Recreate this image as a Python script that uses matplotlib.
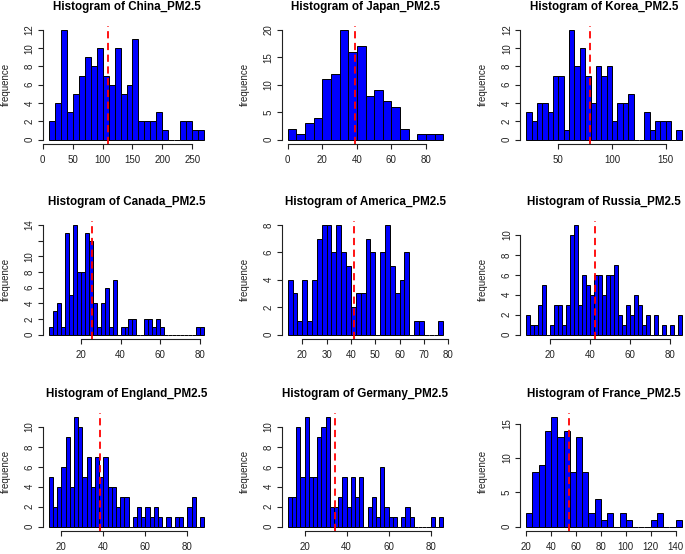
import matplotlib
matplotlib.use("Agg")
import matplotlib.pyplot as plt

plt.rcParams["font.family"] = ["Liberation Sans", "DejaVu Sans"]

countries = ["China", "Japan", "Korea", "Canada", "America", "Russia",
             "England", "Germany", "France"]

china_counts = [2, 4, 12, 3, 5, 7, 9, 8, 10, 7, 6, 10, 5, 6, 11, 2, 2, 2, 3, 1,
                0, 0, 2, 2, 1, 1]
japan_counts = [2, 1, 3, 4, 11, 12, 20, 16, 17, 8, 9, 7, 6, 2, 0, 1, 1, 1]
korea_counts = [3, 2, 4, 4, 3, 7, 7, 1, 12, 8, 10, 7, 4, 8, 7, 8, 2, 4, 4, 5,
                0, 0, 3, 1, 2, 2, 2, 0, 1]
canada_counts = [1, 3, 4, 1, 13, 5, 14, 8, 8, 13, 12, 4, 1, 4, 6, 1, 7, 0, 1, 1,
                 2, 2, 0, 0, 2, 2, 1, 2, 1, 0, 0, 0, 0, 0, 0, 0, 0, 1, 1]
america_counts = [4, 3, 1, 4, 1, 4, 7, 8, 8, 6, 8, 6, 5, 2, 3, 3, 7, 6, 0, 6,
                  8, 5, 3, 4, 6, 0, 1, 1, 0, 0, 0, 1]
russia_counts = [2, 1, 1, 3, 5, 0, 1, 3, 3, 1, 3, 10, 11, 3, 6, 5, 4, 6, 6, 4,
                 6, 6, 7, 2, 1, 3, 2, 4, 3, 1, 2, 0, 2, 0, 1, 0, 1, 0, 2]
england_counts = [5, 2, 4, 6, 9, 4, 11, 10, 5, 7, 4, 7, 5, 7, 4, 4, 2, 3, 3, 0,
                  1, 2, 1, 2, 1, 2, 1, 0, 1, 0, 1, 1, 0, 2, 3, 0, 1]
germany_counts = [3, 3, 10, 5, 11, 5, 5, 9, 10, 11, 2, 2, 3, 5, 2, 5, 3, 5, 0, 2,
                  3, 1, 6, 2, 1, 1, 0, 1, 2, 1, 0, 0, 0, 0, 1, 0, 1]
france_counts = [2, 8, 9, 14, 16, 13, 14, 8, 13, 8, 2, 4, 1, 2, 0, 2, 1, 0, 0, 0,
                 1, 2, 0, 0, 1]

all_counts = [china_counts, japan_counts, korea_counts, canada_counts,
              america_counts, russia_counts, england_counts, germany_counts,
              france_counts]

first_break = [10, 0, 20, 4, 14, 8, 14, 12, 20]
bin_width = [10, 5, 5, 2, 2, 2, 2, 2, 5]
means = [109, 38.8, 79.3, 25.6, 41.3, 42.5, 38.3, 34.5, 54]

x_ticks = [
    [0, 50, 100, 150, 200, 250],
    [0, 20, 40, 60, 80],
    [50, 100, 150],
    [20, 40, 60, 80],
    [20, 30, 40, 50, 60, 70, 80],
    [20, 40, 60, 80],
    [20, 40, 60, 80],
    [20, 40, 60, 80],
    [20, 40, 60, 80, 100, 120, 140],
]
y_ticks = [
    [0, 2, 4, 6, 8, 10, 12],
    [0, 5, 10, 15, 20],
    [0, 2, 4, 6, 8, 10, 12],
    [0, 2, 4, 6, 8, 10, 12, 14],
    [0, 2, 4, 6, 8],
    [0, 2, 4, 6, 8, 10],
    [0, 2, 4, 6, 8, 10],
    [0, 2, 4, 6, 8, 10],
    [0, 5, 10, 15],
]
# R drops the "12" label on Canada because it would overlap "10"
y_labels = [[str(t) for t in ts] for ts in y_ticks]
y_labels[3][6] = ""

W, H = 685, 554
col_left = [42.5, 281.5, 520]
row_bottom = [144, 339, 531]
pw, ph = 168, 118.5


def draw_hist(ax, i):
    counts = all_counts[i]
    n = len(counts)
    lefts = [first_break[i] + k * bin_width[i] for k in range(n)]
    lo = first_break[i]
    hi = first_break[i] + n * bin_width[i]
    ax.bar(lefts, counts, width=bin_width[i], align="edge", color="#0000ff",
           edgecolor="black", linewidth=0.7)
    ax.axvline(means[i], color="red", linestyle=(0, (4, 2.5)), linewidth=1.3)

    span = hi - lo
    ax.set_xlim(lo - 0.04 * span, hi + 0.04 * span)
    ymax = max(counts)
    ax.set_ylim(-0.04 * ymax, 1.04 * ymax)

    ax.set_xticks(x_ticks[i])
    ax.set_yticks(y_ticks[i])
    ax.set_yticklabels(y_labels[i])
    for s in ["top", "right"]:
        ax.spines[s].set_visible(False)
    ax.spines["bottom"].set_bounds(x_ticks[i][0], x_ticks[i][-1])
    ax.spines["left"].set_bounds(y_ticks[i][0], y_ticks[i][-1])
    for s in ["bottom", "left"]:
        ax.spines[s].set_linewidth(0.8)
        ax.spines[s].set_color("#222222")

    ax.tick_params(axis="both", labelsize=7, length=3.8, width=0.8,
                   color="#222222", labelcolor="#222222")
    ax.tick_params(axis="x", pad=4.2)
    ax.tick_params(axis="y", pad=2, labelrotation=90)
    for lab in ax.get_yticklabels():
        lab.set_verticalalignment("center")

    ax.set_title("Histogram of %s_PM2.5" % countries[i], fontsize=8.4,
                 fontweight="bold", pad=11)
    ax.set_ylabel("frequence", fontsize=7, color="#222222")
    ax.yaxis.set_label_coords(-32 / pw, 0.5)


def main():
    fig = plt.figure(figsize=(W / 100, H / 100), dpi=100)
    for i in range(9):
        r, c = divmod(i, 3)
        ax = fig.add_axes([col_left[c] / W, 1 - row_bottom[r] / H, pw / W, ph / H])
        draw_hist(ax, i)
    fig.savefig("out.png", dpi=100)


if __name__ == "__main__":
    main()
